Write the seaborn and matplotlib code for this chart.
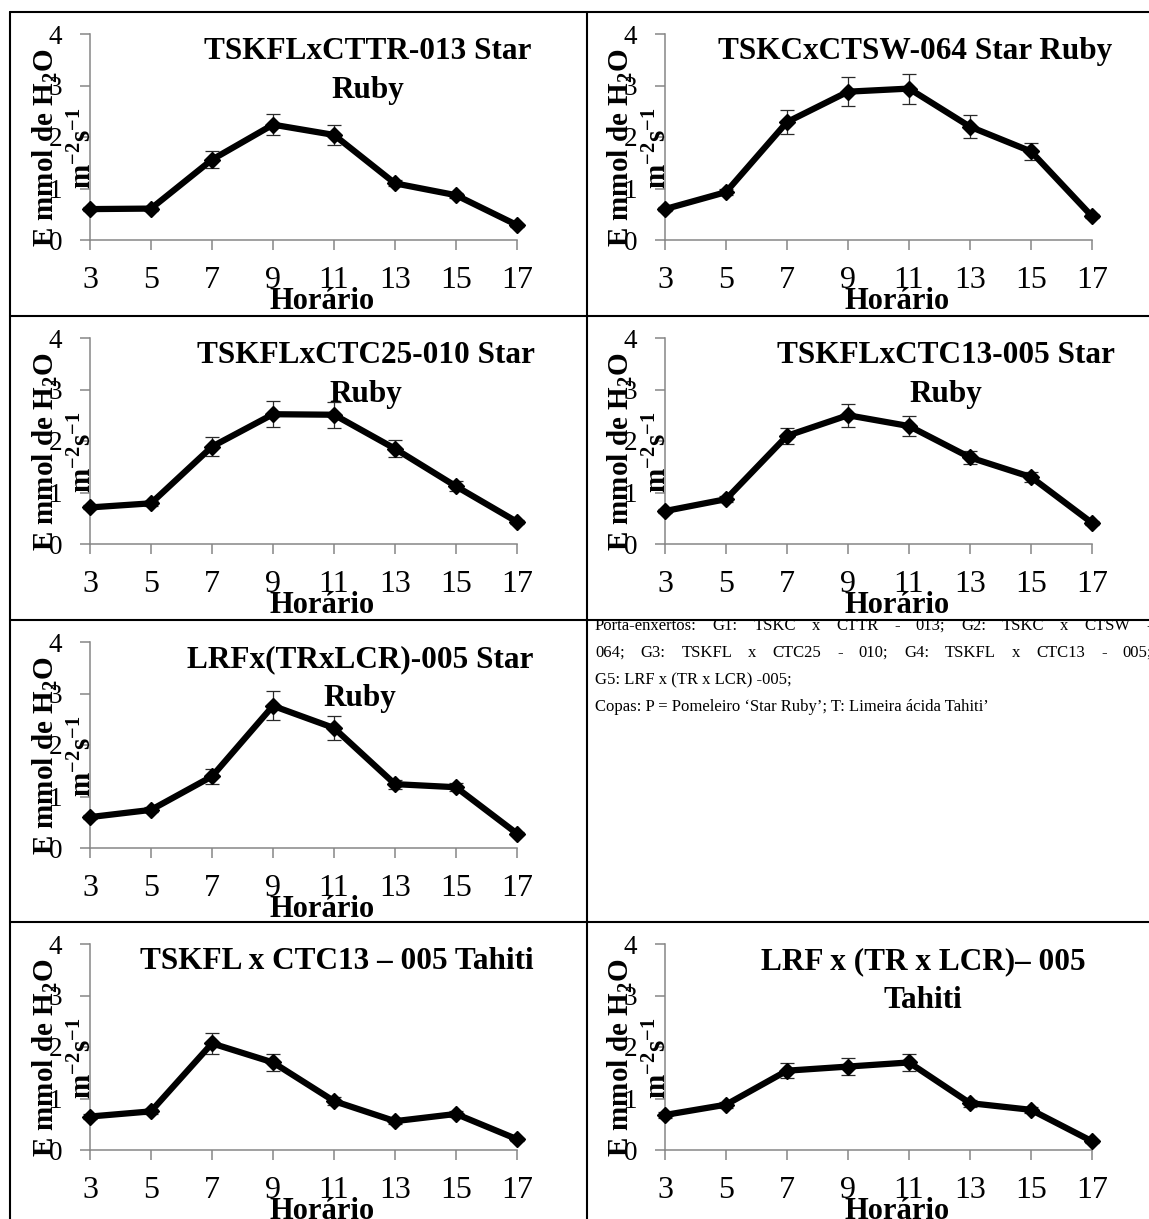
import matplotlib
matplotlib.use("Agg")
import matplotlib.pyplot as plt
from matplotlib.lines import Line2D
import pandas as pd
import seaborn as sns

# Transpiração (E) ao longo do dia, por combinação porta-enxerto x copa
hours = [3, 5, 7, 9, 11, 13, 15, 17]

title_g1_p = "TSKFLxCTTR-013 Star\nRuby"
e_g1_p = [0.60, 0.61, 1.56, 2.24, 2.04, 1.10, 0.87, 0.29]
se_g1_p = [0.04, 0.04, 0.16, 0.21, 0.20, 0.06, 0.05, 0.03]

title_g2_p = "TSKCxCTSW-064 Star Ruby"
e_g2_p = [0.60, 0.93, 2.29, 2.88, 2.94, 2.20, 1.72, 0.46]
se_g2_p = [0.04, 0.06, 0.23, 0.28, 0.29, 0.22, 0.17, 0.04]

title_g3_p = "TSKFLxCTC25-010 Star\nRuby"
e_g3_p = [0.71, 0.79, 1.89, 2.52, 2.51, 1.85, 1.12, 0.43]
se_g3_p = [0.04, 0.05, 0.18, 0.25, 0.25, 0.17, 0.10, 0.04]

title_g4_p = "TSKFLxCTC13-005 Star\nRuby"
e_g4_p = [0.64, 0.87, 2.10, 2.50, 2.29, 1.68, 1.30, 0.41]
se_g4_p = [0.04, 0.06, 0.16, 0.22, 0.19, 0.12, 0.10, 0.04]

title_g5_p = "LRFx(TRxLCR)-005 Star\nRuby"
e_g5_p = [0.60, 0.74, 1.39, 2.76, 2.33, 1.24, 1.18, 0.28]
se_g5_p = [0.04, 0.05, 0.15, 0.28, 0.24, 0.09, 0.08, 0.03]

title_g4_t = "TSKFL x CTC13 \u2013 005 Tahiti"
e_g4_t = [0.65, 0.75, 2.07, 1.70, 0.95, 0.56, 0.70, 0.21]
se_g4_t = [0.04, 0.05, 0.21, 0.17, 0.08, 0.05, 0.05, 0.03]

title_g5_t = "LRF x (TR x LCR)\u2013 005\nTahiti"
e_g5_t = [0.68, 0.88, 1.54, 1.62, 1.70, 0.91, 0.78, 0.17]
se_g5_t = [0.05, 0.06, 0.15, 0.16, 0.17, 0.07, 0.06, 0.03]

x_label = "Horário"
y_label = "E mmol de H$_2$O\nm$^{-2}$s$^{-1}$"
y_ticks = [0, 1, 2, 3, 4]

note_lines = [
    ("Porta-enxertos: G1: TSKC x CTTR - 013; G2: TSKC x CTSW -", True),
    ("064; G3: TSKFL x CTC25 - 010; G4: TSKFL x CTC13 - 005;", True),
    ("G5: LRF x (TR x LCR) -005;", False),
    ("Copas: P = Pomeleiro \u2018Star Ruby\u2019; T: Limeira ácida Tahiti\u2019", False),
]

W, H, DPI = 1149, 1219, 100

sns.set_theme(style="ticks")
plt.rcParams["font.family"] = ["Liberation Serif", "DejaVu Serif"]
plt.rcParams["mathtext.fontset"] = "custom"
plt.rcParams["mathtext.rm"] = "Liberation Serif:bold"
plt.rcParams["mathtext.it"] = "Liberation Serif:bold"
plt.rcParams["mathtext.bf"] = "Liberation Serif:bold"

fig = plt.figure(figsize=(W / DPI, H / DPI), dpi=DPI)
fig.patch.set_facecolor("white")

AX_W, AX_H = 427, 206
col_left = [90, 665]
row_top = [34, 338, 642, 944]
AXIS_GREY = "#868686"

# (row, col, title, values, errors, title x in axes fraction)
panels = [
    (0, 0, title_g1_p, e_g1_p, se_g1_p, 0.651),
    (0, 1, title_g2_p, e_g2_p, se_g2_p, 0.586),
    (1, 0, title_g3_p, e_g3_p, se_g3_p, 0.646),
    (1, 1, title_g4_p, e_g4_p, se_g4_p, 0.657),
    (2, 0, title_g5_p, e_g5_p, se_g5_p, 0.632),
    (3, 0, title_g4_t, e_g4_t, se_g4_t, 0.578),
    (3, 1, title_g5_t, e_g5_t, se_g5_t, 0.605),
]

for row, col, title, vals, errs, tx in panels:
    left, top = col_left[col], row_top[row]
    ax = fig.add_axes([left / W, 1 - (top + AX_H) / H, AX_W / W, AX_H / H])
    ax.set_facecolor("white")
    df = pd.DataFrame({"hora": hours, "E": vals})

    ax.errorbar(hours, vals, yerr=errs, fmt="none", ecolor="#2a2a2a",
                elinewidth=0.9, capsize=5, capthick=0.9, zorder=2, clip_on=False)
    sns.lineplot(data=df, x="hora", y="E", ax=ax, color="black", linewidth=4.5,
                 marker="D", markersize=8, markeredgecolor="black",
                 markeredgewidth=1, zorder=3, clip_on=False)

    ax.set_xlim(3, 17)
    ax.set_ylim(0, 4)
    ax.set_xticks(hours)
    ax.set_yticks(y_ticks)
    ax.tick_params(axis="x", labelsize=23, length=7, width=1.1, color=AXIS_GREY,
                   pad=12, direction="out", labelcolor="black")
    ax.tick_params(axis="y", labelsize=19.5, length=7, width=1.1, color=AXIS_GREY,
                   pad=13, direction="out", labelcolor="black")
    for s in ("top", "right"):
        ax.spines[s].set_visible(False)
    for s in ("left", "bottom"):
        ax.spines[s].set_color(AXIS_GREY)
        ax.spines[s].set_linewidth(1.1)

    ax.set_xlabel(x_label, fontsize=22, fontweight="bold", color="black")
    ax.xaxis.set_label_coords(0.543, -0.228)
    ax.set_ylabel(y_label, fontsize=21, fontweight="bold", color="black",
                  linespacing=1.35)
    ax.yaxis.set_label_coords(0.016, 0.447)

    ax.text(tx, 0.986, title, transform=ax.transAxes, ha="center", va="top",
            fontsize=22.5, fontweight="bold", color="black", linespacing=1.48)

# table borders
def hline(y, x0=10, x1=W):
    fig.add_artist(Line2D([x0 / W, x1 / W], [1 - y / H, 1 - y / H],
                          transform=fig.transFigure, color="black", linewidth=1.5))

def vline(x, y0=12, y1=H):
    fig.add_artist(Line2D([x / W, x / W], [1 - y0 / H, 1 - y1 / H],
                          transform=fig.transFigure, color="black", linewidth=1.5))

for y in (12, 316, 620, 922):
    hline(y)
vline(10)
vline(587)

# legend text block, justified where the paragraph continues
renderer = fig.canvas.get_renderer()
note_x0, note_x1 = 595, 1152
note_size = 12
baseline = 630
for text, justify in note_lines:
    yf = 1 - baseline / H
    if justify:
        words = text.split(" ")
        arts = [fig.text(0, yf, w, fontsize=note_size, color="black",
                         va="baseline", ha="left") for w in words]
        widths = [a.get_window_extent(renderer).width for a in arts]
        gap = (note_x1 - note_x0 - sum(widths)) / (len(words) - 1)
        x = note_x0
        for a, w in zip(arts, widths):
            a.set_position((x / W, yf))
            x += w + gap
    else:
        fig.text(note_x0 / W, yf, text, fontsize=note_size, color="black",
                 va="baseline", ha="left")
    baseline += 27

fig.savefig("out.png", dpi=DPI, facecolor="white")
